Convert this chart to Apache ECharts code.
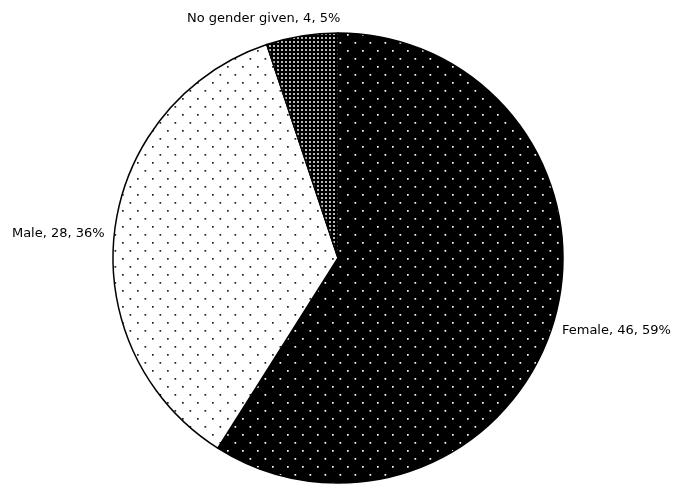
<!DOCTYPE html>
<html>
<head>
<meta charset="utf-8">
<script src="https://cdn.jsdelivr.net/npm/echarts@6/dist/echarts.min.js"></script>
<style>
html,body{margin:0;padding:0;background:#fff;}
#chart{width:673px;height:484px;}
</style>
</head>
<body>
<div id="chart"></div>
<script>
const categories = ['Female', 'Male', 'No gender given'];
const values = [46, 28, 4];

function dotPattern(bg, fg, w, h, dots, size) {
  const c = document.createElement('canvas');
  c.width = w; c.height = h;
  const ctx = c.getContext('2d');
  ctx.fillStyle = bg; ctx.fillRect(0, 0, w, h);
  ctx.fillStyle = fg;
  dots.forEach(function (d) { ctx.fillRect(d[0], d[1], size, size); });
  return { image: c, repeat: 'repeat' };
}

const patterns = [
  dotPattern('#000', '#ffffff', 15, 16, [[2, 2], [9.5, 10]], 1.7),
  dotPattern('#fff', '#222222', 15, 16, [[2, 2], [9.5, 10]], 1.7),
  dotPattern('#000', '#b8b8b8', 4, 4, [[1, 1]], 2)
];

// label nudges (style offsets) to mimic the original label placement
const labelShift = [[-5, 9], [3, 3], [48, -13]];

const chart = echarts.init(document.getElementById('chart'), null, { renderer: 'canvas' });
chart.setOption({
  animation: false,
  backgroundColor: '#fff',
  series: [{
    type: 'pie',
    center: [338, 258],
    radius: 225,
    startAngle: 90,
    clockwise: true,
    percentPrecision: 0,
    data: categories.map(function (n, i) {
      return { name: n, value: values[i], itemStyle: { color: patterns[i] } };
    }),
    itemStyle: { borderColor: '#000', borderWidth: 1.5 },
    label: {
      show: true,
      position: 'outside',
      formatter: '{b}, {c}, {d}%',
      fontFamily: 'DejaVu Sans',
      fontSize: 13,
      color: '#000',
      overflow: 'none'
    },
    labelLine: { show: false, length: 4, length2: 4 },
    labelLayout: function (params) {
      const s = labelShift[params.dataIndex];
      return { dx: s[0], dy: s[1] };
    },
    emphasis: { disabled: true }
  }]
});
</script>
</body>
</html>
